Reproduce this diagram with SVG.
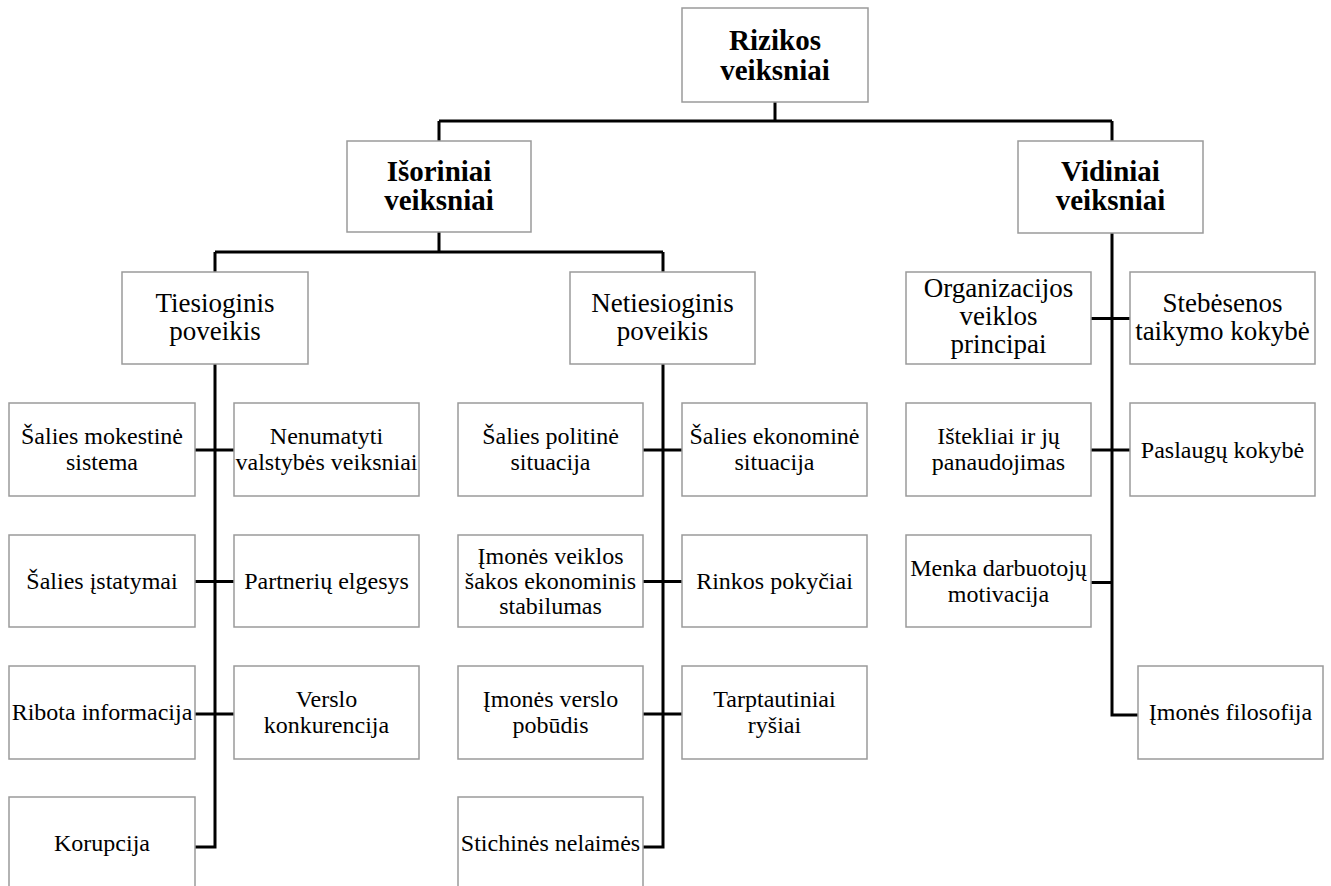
<svg xmlns="http://www.w3.org/2000/svg" width="1331" height="886" viewBox="0 0 1331 886">
<style>
.box{fill:#fff;stroke:#9a9a9a;stroke-width:1.5}
text{font-family:'Liberation Serif','DejaVu Serif',serif;fill:#000;text-anchor:middle}
.b{font-size:29px;font-weight:bold}
.m{font-size:27px}
.s{font-size:24px}
.c{fill:none;stroke:#000;stroke-width:3;stroke-linejoin:miter;stroke-linecap:butt}
</style>
<rect width="1331" height="886" fill="#fff"/>
<g id="connectors">
<path class="c" d="M775,102V121M439,121H1112M439,121V141M1112,121V141"/>
<path class="c" d="M439,232V252M215,252H663M215,252V272M663,252V272"/>
<path class="c" d="M215,364V847H195M195,450H234M195,581.5H234M195,714H234"/>
<path class="c" d="M663,364V847H643M643,450H682M643,581.5H682M643,714H682"/>
<path class="c" d="M1112,233V715H1138M1091,318.5H1130M1091,450H1130M1091,582.5H1112"/>
</g>
<g font-family="Liberation Serif, DejaVu Serif, serif">
<g id="n-root"><rect class="box" x="682" y="8" width="186" height="94"/><text class="b" x="775" y="50">Rizikos</text><text class="b" x="775" y="80">veiksniai</text></g>
<g id="n-isor"><rect class="box" x="347" y="141" width="184" height="91"/><text class="b" x="439" y="181">Išoriniai</text><text class="b" x="439" y="210">veiksniai</text></g>
<g id="n-vid"><rect class="box" x="1018" y="141" width="185" height="92"/><text class="b" x="1110.5" y="181">Vidiniai</text><text class="b" x="1110.5" y="210">veiksniai</text></g>
<g id="n-ties"><rect class="box" x="122" y="272" width="186" height="92"/><text class="m" x="215" y="312">Tiesioginis</text><text class="m" x="215" y="340">poveikis</text></g>
<g id="n-nties"><rect class="box" x="570" y="272" width="185" height="92"/><text class="m" x="662.5" y="312">Netiesioginis</text><text class="m" x="662.5" y="340">poveikis</text></g>
<g id="n-org"><rect class="box" x="906" y="272" width="185" height="92"/><text class="m" x="998.5" y="297">Organizacijos</text><text class="m" x="998.5" y="325">veiklos</text><text class="m" x="998.5" y="353">principai</text></g>
<g id="n-steb"><rect class="box" x="1130" y="272" width="185" height="92"/><text class="m" x="1222.5" y="312">Stebėsenos</text><text class="m" x="1222.5" y="340">taikymo kokybė</text></g>
<g id="n-mok"><rect class="box" x="9" y="403" width="186" height="93"/><text class="s" x="102" y="444">Šalies mokestinė</text><text class="s" x="102" y="469.5">sistema</text></g>
<g id="n-nenum"><rect class="box" x="234" y="403" width="185" height="93"/><text class="s" x="326.5" y="444">Nenumatyti</text><text class="s" x="326.5" y="469.5">valstybės veiksniai</text></g>
<g id="n-polit"><rect class="box" x="458" y="403" width="185" height="93"/><text class="s" x="550.5" y="444">Šalies politinė</text><text class="s" x="550.5" y="469.5">situacija</text></g>
<g id="n-ekon"><rect class="box" x="682" y="403" width="185" height="93"/><text class="s" x="774.5" y="444">Šalies ekonominė</text><text class="s" x="774.5" y="469.5">situacija</text></g>
<g id="n-istekl"><rect class="box" x="906" y="403" width="185" height="93"/><text class="s" x="998.5" y="444">Ištekliai ir jų</text><text class="s" x="998.5" y="469.5">panaudojimas</text></g>
<g id="n-pasl"><rect class="box" x="1130" y="403" width="185" height="93"/><text class="s" x="1222.5" y="457.5">Paslaugų kokybė</text></g>
<g id="n-istat"><rect class="box" x="9" y="535" width="186" height="92"/><text class="s" x="102" y="589">Šalies įstatymai</text></g>
<g id="n-partn"><rect class="box" x="234" y="535" width="185" height="92"/><text class="s" x="326.5" y="589">Partnerių elgesys</text></g>
<g id="n-saka"><rect class="box" x="458" y="535" width="185" height="92"/><text class="s" x="550.5" y="563.5">Įmonės veiklos</text><text class="s" x="550.5" y="589">šakos ekonominis</text><text class="s" x="550.5" y="613.5">stabilumas</text></g>
<g id="n-rink"><rect class="box" x="682" y="535" width="185" height="92"/><text class="s" x="774.5" y="589">Rinkos pokyčiai</text></g>
<g id="n-menka"><rect class="box" x="906" y="535" width="185" height="92"/><text class="s" x="998.5" y="576">Menka darbuotojų</text><text class="s" x="998.5" y="601.5">motivacija</text></g>
<g id="n-ribota"><rect class="box" x="9" y="666" width="186" height="93"/><text class="s" x="102" y="720">Ribota informacija</text></g>
<g id="n-konk"><rect class="box" x="234" y="666" width="185" height="93"/><text class="s" x="326.5" y="707">Verslo</text><text class="s" x="326.5" y="732.5">konkurencija</text></g>
<g id="n-pobud"><rect class="box" x="458" y="666" width="185" height="93"/><text class="s" x="550.5" y="707">Įmonės verslo</text><text class="s" x="550.5" y="732.5">pobūdis</text></g>
<g id="n-tarpt"><rect class="box" x="682" y="666" width="185" height="93"/><text class="s" x="774.5" y="707">Tarptautiniai</text><text class="s" x="774.5" y="732.5">ryšiai</text></g>
<g id="n-filos"><rect class="box" x="1138" y="666" width="185" height="93"/><text class="s" x="1230.5" y="720">Įmonės filosofija</text></g>
<g id="n-korup"><rect class="box" x="9" y="797" width="186" height="93"/><text class="s" x="102" y="851">Korupcija</text></g>
<g id="n-stich"><rect class="box" x="458" y="797" width="185" height="93"/><text class="s" x="550.5" y="851">Stichinės nelaimės</text></g>
</g>
</svg>
